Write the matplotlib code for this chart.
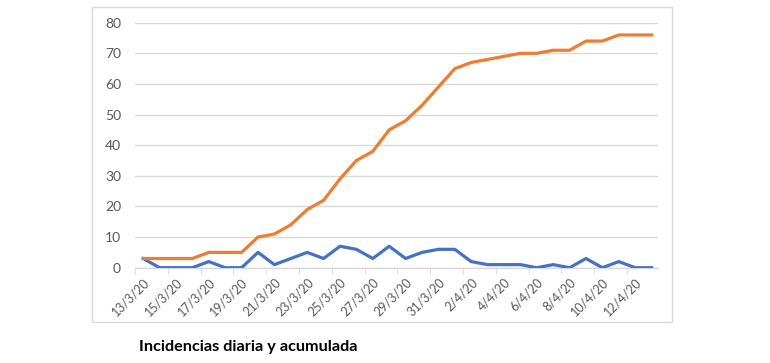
import matplotlib
matplotlib.use("Agg")
from matplotlib import pyplot as plt
from matplotlib.patches import Rectangle

# dates shown on the category axis (13/3/20 .. 13/4/20)
dates = [f"{d}/3/20" for d in range(13, 32)] + [f"{d}/4/20" for d in range(1, 14)]

# daily new cases (blue) and running total (orange)
daily = [3, 0, 0, 0, 2, 0, 0, 5, 1, 3, 5, 3, 7, 6, 3, 7, 3, 5, 6, 6,
         2, 1, 1, 1, 0, 1, 0, 3, 0, 2, 0, 0]
cumulative = [3, 3, 3, 3, 5, 5, 5, 10, 11, 14, 19, 22, 29, 35, 38, 45, 48, 53, 59, 65,
              67, 68, 69, 70, 70, 71, 71, 74, 74, 76, 76, 76]

y_ticks = [0, 10, 20, 30, 40, 50, 60, 70, 80]
title = "Incidencias diaria y acumulada"

plt.rcParams['font.family'] = ['Lato', 'DejaVu Sans']

W, H = 770, 363
fig = plt.figure(figsize=(W / 100, H / 100), dpi=100)
ax = fig.add_axes([135 / W, 1 - 267.7 / H, (658 - 135) / W, (267.7 - 22.7) / H])

x = list(range(len(dates)))
ax.plot(x, daily, color="#4472C4", lw=2.3, solid_joinstyle="round", zorder=3)
ax.plot(x, cumulative, color="#ED7D31", lw=2.3, solid_joinstyle="round", zorder=3)

ax.set_xlim(-0.41, len(dates) - 0.61)
ax.set_ylim(0, 80)
ax.set_yticks(y_ticks)
ax.yaxis.grid(True, color="#D9D9D9", lw=1)
ax.set_axisbelow(True)
for s in ["top", "right", "left"]:
    ax.spines[s].set_visible(False)
ax.spines["bottom"].set_color("#D9D9D9")
ax.spines["bottom"].set_linewidth(1)

ax.set_xticks(x[::2])
ax.set_xticklabels(dates[::2], rotation=45, ha="right", rotation_mode="anchor",
                   fontsize=9, color="#595959")
ax.set_xticks([i - 0.5 for i in x[::2]], minor=True)
ax.tick_params(axis="x", which="major", length=0, pad=6)
ax.tick_params(axis="x", which="minor", length=4, color="#D9D9D9")
ax.tick_params(axis="y", length=0, labelsize=10, labelcolor="#595959", pad=10)

# chart area border
fig.patches.append(Rectangle((92 / W, 1 - 322 / H), (672 - 92) / W, (322 - 7) / H,
                             transform=fig.transFigure, fill=False,
                             edgecolor="#D9D9D9", lw=1))

fig.text(139 / W, 1 - 347 / H, title, fontsize=11.7, fontweight="bold",
         ha="left", va="center", color="black")

fig.savefig("out.png", dpi=100, facecolor="white")
